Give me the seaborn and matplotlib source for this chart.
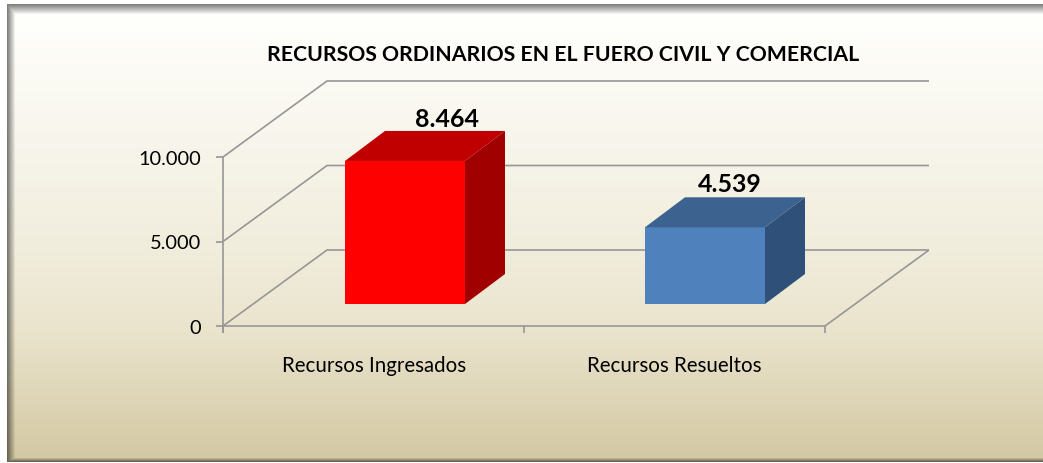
import numpy as np
import pandas as pd
import matplotlib
matplotlib.use("Agg")
import matplotlib.pyplot as plt
from matplotlib.patches import Polygon
import seaborn as sns

categorias = ["Recursos Ingresados", "Recursos Resueltos"]
valores = [8464, 4539]
etiquetas = ["8.464", "4.539"]
ticks_y = [0, 5000, 10000]
ticks_y_txt = ["0", "5.000", "10.000"]
titulo = "RECURSOS ORDINARIOS EN EL FUERO CIVIL Y COMERCIAL"
caras = ["#FF0000", "#4F81BD"]
techos = ["#C00000", "#3C6290"]
lados = ["#A00000", "#2F5079"]

W, H = 1043, 463
FONT = "Lato"
GRID = "#969696"
sns.set_theme(style="white")
plt.rcParams["font.family"] = [FONT, "DejaVu Sans"]

fig = plt.figure(figsize=(W / 100, H / 100), dpi=100, facecolor="white")

# background panel with gradient and inner shadow
bg = fig.add_axes([0, 0, 1, 1], zorder=0)
stops_y = [0, 30, 130, 250, 330, 400, 463]
stops_c = np.array([[255, 255, 253], [254, 254, 250], [248, 246, 237], [241, 237, 220],
                    [234, 228, 205], [222, 213, 182], [210, 199, 162]], float)
yy, xx = np.mgrid[0:H, 0:W]
img = np.stack([np.interp(yy, stops_y, stops_c[:, i]) for i in range(3)], axis=-1)
L, T, B = 7, 4, 461
shade = np.ones((H, W))
shade = np.minimum(shade, 0.5 + 0.5 * np.clip((xx - L) / 8, 0, 1))
shade = np.minimum(shade, 0.5 + 0.5 * np.clip((yy - T) / 10, 0, 1))
shade = np.minimum(shade, 0.5 + 0.5 * np.clip((B - yy) / 4, 0, 1))
img = img * shade[..., None]
outside = (xx < L) | (yy < T) | (yy > B)
img[outside] = 255
bg.imshow(img.astype(np.uint8), extent=(0, W, H, 0), aspect="auto", interpolation="bilinear")
bg.axis("off")

# main axes spans the whole figure; scales set so the data land on the right pixels
ax = fig.add_axes([0, 0, 1, 1], zorder=1)
df = pd.DataFrame({"categoria": categorias, "valor": valores})
sns.barplot(data=df, x="categoria", y="valor", hue="categoria", palette=caras, hue_order=categorias,
            width=0.4, saturation=1, legend=False, ax=ax, zorder=5, linewidth=0)

PX_X = 300.0
PX_Y = 169.0 / 10000
X0, Y0 = 405.0, 304.0
ax.set_xlim(-X0 / PX_X, (W - X0) / PX_X)
ax.set_ylim(-(H - Y0) / PX_Y, Y0 / PX_Y)
ax.axis("off")
ax.patch.set_visible(False)

def fx(px):
    return (px - X0) / PX_X
def fy(py):
    return (Y0 - py) / PX_Y
dpx = lambda n: n / PX_X
dpy = lambda n: n / PX_Y

# 3D frame
front_x0, front_x1, base_py = 223, 825, 326
dep_x, dep_y = 104, 76
lw = 1.2
line = dict(color=GRID, lw=lw, zorder=2, solid_capstyle="butt")
for v in ticks_y:
    y = fy(base_py) + v * 1.0
    ax.plot([fx(front_x0), fx(front_x0 + dep_x), fx(front_x1 + dep_x)],
            [y, y + dpy(dep_y), y + dpy(dep_y)], **line)
    ax.plot([fx(front_x0 - 7), fx(front_x0)], [y, y], **line)
y_base = fy(base_py)
ax.plot([fx(front_x0), fx(front_x0)], [y_base - dpy(7), y_base + ticks_y[-1]], **line)
ax.plot([fx(front_x0), fx(front_x1), fx(front_x1 + dep_x)], [y_base, y_base, y_base + dpy(dep_y)], **line)
for k in range(len(categorias) + 1):
    px = front_x0 + k * (front_x1 - front_x0) / len(categorias)
    ax.plot([fx(px), fx(px)], [y_base - dpy(7), y_base], **line)

for t, s in zip(ticks_y, ticks_y_txt):
    ax.text(fx(201), y_base + t - dpy(2), s, ha="right", va="center", fontsize=14.4, color="#000000")

for i, c in enumerate(categorias):
    ax.text(i + fx(374), fy(366), c, ha="center", va="center", fontsize=14.8, color="#000000")

# bar depth faces
ddx, ddy = dpx(40), dpy(30)
label_dx = [42, 25]
label_dy = [41, 43]
for i, p in enumerate(ax.patches[:len(categorias)]):
    x0, x1 = p.get_x(), p.get_x() + p.get_width()
    h = p.get_height()
    ax.add_patch(Polygon([(x0, h), (x1, h), (x1 + ddx, h + ddy), (x0 + ddx, h + ddy)],
                         closed=True, fc=techos[i], ec="none", zorder=6))
    ax.add_patch(Polygon([(x1, 0), (x1 + ddx, ddy), (x1 + ddx, h + ddy), (x1, h)],
                         closed=True, fc=lados[i], ec="none", zorder=6))
    ax.text(i + dpx(label_dx[i]), h + dpy(label_dy[i]), etiquetas[i], ha="center", va="center",
            fontsize=17.9, fontweight="bold", color="#000000", zorder=7)

ax.text(fx(563.5), fy(55), titulo, ha="center", va="center", fontsize=15.35, fontweight="bold", color="#000000")

fig.savefig("out.png", dpi=100)
